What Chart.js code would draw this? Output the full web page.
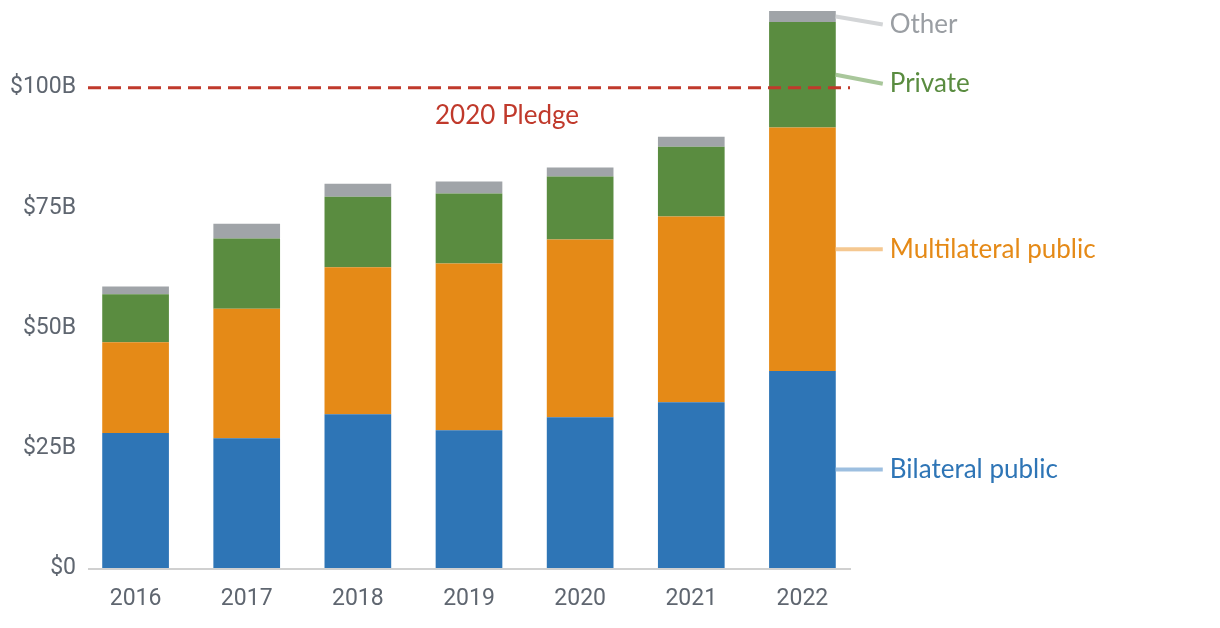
<!DOCTYPE html>
<html lang="en">
<head>
<meta charset="UTF-8">
<title>Climate finance</title>
<script src="https://cdn.jsdelivr.net/npm/chart.js@4.4.1/dist/chart.umd.min.js"></script>
<style>
  html, body { margin: 0; padding: 0; background: #fff; }
  #wrap { width: 1220px; height: 628px; }
</style>
</head>
<body>
<div id="wrap"><canvas id="grafico"></canvas></div>
<script>
const anos = ['2016', '2017', '2018', '2019', '2020', '2021', '2022'];
const bilateral = [28.1, 27.0, 32.0, 28.7, 31.4, 34.5, 41.0];
const multilateral = [18.9, 27.0, 30.6, 34.7, 37.0, 38.7, 50.7];
const privado = [10.0, 14.6, 14.7, 14.6, 13.1, 14.5, 22.0];
const outros = [1.6, 3.1, 2.7, 2.5, 1.9, 2.1, 2.3];
const yTicks = [0, 25, 50, 75, 100];
const pledge = 100;

const series = [
  { label: 'Bilateral public', data: bilateral, color: '#2e75b6', line: '#9dbfe0' },
  { label: 'Multilateral public', data: multilateral, color: '#e58a17', line: '#f5c891' },
  { label: 'Private', data: privado, color: '#5a8c40', line: '#a9c79b' },
  { label: 'Other', data: outros, color: '#a0a4a8', line: '#d3d5d7' }
];

// linha do compromisso, anotações e rótulos à direita
const anotacoes = {
  id: 'anotacoes',
  afterDatasetsDraw(chart) {
    const ctx = chart.ctx;
    const x = chart.scales.x, y = chart.scales.y;
    const area = chart.chartArea;

    // eixo x
    ctx.save();
    ctx.strokeStyle = '#d0d0d0';
    ctx.lineWidth = 2;
    ctx.beginPath();
    ctx.moveTo(area.left + 8, y.getPixelForValue(0) + 1);
    ctx.lineTo(area.right - 7, y.getPixelForValue(0) + 1);
    ctx.stroke();

    // linha tracejada 2020 Pledge
    const py = y.getPixelForValue(pledge);
    ctx.strokeStyle = '#c0392b';
    ctx.lineWidth = 3;
    ctx.setLineDash([13, 7]);
    ctx.beginPath();
    ctx.moveTo(area.left + 8, py);
    ctx.lineTo(area.right - 8, py);
    ctx.stroke();
    ctx.setLineDash([]);

    ctx.fillStyle = '#c0392b';
    ctx.font = '26px Lato';
    ctx.textAlign = 'center';
    ctx.textBaseline = 'middle';
    ctx.fillText('2020 Pledge', x.getPixelForValue(3) + 38, py + 28);

    // rótulos das séries no último ano
    const last = anos.length - 1;
    const meta0 = chart.getDatasetMeta(0).data[last];
    const barRight = meta0.x + meta0.width / 2;
    const offsets = [0, 0, 9, 8];
    let base = 0;
    series.forEach((s, i) => {
      const v = s.data[last];
      const mid = y.getPixelForValue(base + v / 2);
      base += v;
      const ly = mid + offsets[i];
      ctx.strokeStyle = s.line;
      ctx.lineWidth = 4;
      ctx.beginPath();
      ctx.moveTo(barRight, mid);
      ctx.lineTo(barRight + 47, ly);
      ctx.stroke();
      ctx.fillStyle = s.color === '#a0a4a8' ? '#9a9ea3' : s.color;
      ctx.font = '26px Lato';
      ctx.textAlign = 'left';
      ctx.textBaseline = 'middle';
      ctx.fillText(s.label, barRight + 54, ly);
    });
    ctx.restore();
  }
};

const ctx = document.getElementById('grafico').getContext('2d');
new Chart(ctx, {
  type: 'bar',
  data: {
    labels: anos,
    datasets: series.map(s => ({
      label: s.label,
      data: s.data,
      backgroundColor: s.color,
      borderWidth: 0,
      categoryPercentage: 1,
      barPercentage: 0.6
    }))
  },
  options: {
    responsive: true,
    maintainAspectRatio: false,
    animation: false,
    layout: { padding: { top: 10, right: 362, bottom: 0, left: 0 } },
    plugins: {
      legend: { display: false },
      tooltip: { enabled: false }
    },
    scales: {
      x: {
        stacked: true,
        grid: { display: false, drawTicks: false },
        border: { display: false },
        afterFit: axis => { axis.height = 60; },
        ticks: { color: '#5f6670', font: { family: 'Roboto', size: 23 }, padding: 17 }
      },
      y: {
        stacked: true,
        min: 0,
        max: 116,
        grid: { display: false, drawTicks: false },
        border: { display: false },
        afterBuildTicks: axis => { axis.ticks = yTicks.map(v => ({ value: v })); },
        afterFit: axis => { axis.width = 80; },
        ticks: {
          color: '#5f6670',
          font: { family: 'Roboto', size: 23, lineHeight: 0.6 },
          padding: 4,
          callback: v => v === 0 ? '$0' : '$' + v + 'B'
        }
      }
    }
  },
  plugins: [anotacoes]
});
</script>
</body>
</html>
